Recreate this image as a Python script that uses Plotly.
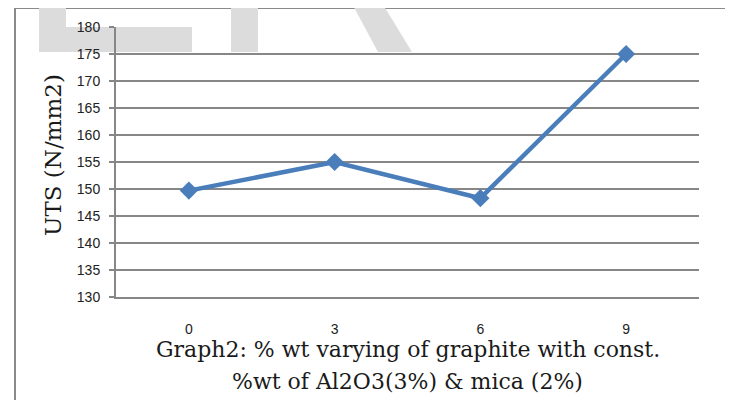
import plotly.graph_objects as go

# Data
categories = ["0", "3", "6", "9"]
uts_values = [149.7, 155.0, 148.3, 175.0]
y_ticks = [130, 135, 140, 145, 150, 155, 160, 165, 170, 175, 180]

# page body has an 8px margin; figure sized to fit the 733x400 window
OFF = 8
W, H = 733 - OFF, 400 - OFF
PL, PR, PT, PB = 116, 699, 27, 297          # plot area in window pixels
L, T = PL - OFF, PT - OFF
PW, PH = PR - PL, PB - PT
R = W - L - PW
B = H - T - PH


def px(x, y):
    """window pixel -> paper coords"""
    return (x - PL) / PW, (PB - y) / PH


def poly(points):
    pts = [px(x, y) for x, y in points]
    return "M " + " L ".join(f"{a:.5f},{b:.5f}" for a, b in pts) + " Z"


fig = go.Figure()
fig.add_trace(go.Scatter(
    x=categories, y=uts_values, mode="lines+markers",
    line=dict(color="#4a7ebb", width=4.5),
    marker=dict(symbol="diamond", size=14, color="#4a7ebb"),
    showlegend=False, cliponaxis=False,
))

grey = "#878787"
shapes = []
# outer chart border
x0, y0 = px(15, 8)
x1, y1 = px(728, 412)
shapes.append(dict(type="rect", xref="paper", yref="paper", x0=x0, y0=y1, x1=x1, y1=y0,
                   line=dict(color="#8a8a8a", width=2), fillcolor="rgba(0,0,0,0)", layer="below"))
# watermark shapes
wm = "#dcdcdc"
for pts in [
    [(39, -2), (66, -2), (66, 27), (192, 27), (192, 52), (39, 52)],
    [(231, -2), (258, -2), (258, 52), (231, 52)],
    [(349, -2), (379, -2), (412, 52), (378, 52)],
]:
    shapes.append(dict(type="path", xref="paper", yref="paper", path=poly(pts),
                       fillcolor=wm, line=dict(width=0), layer="below"))

serif = dict(family="DejaVu Serif", size=22, color="#1a1a1a")
annotations = []
ax, ay = px(407.5, 349)
annotations.append(dict(text="Graph2: % wt varying of graphite with const.", xref="paper", yref="paper",
                        x=ax, y=ay, showarrow=False, xanchor="center", yanchor="middle", font=serif))
ax, ay = px(407.5, 381)
annotations.append(dict(text="%wt of Al2O3(3%) &amp; mica (2%)", xref="paper", yref="paper",
                        x=ax, y=ay, showarrow=False, xanchor="center", yanchor="middle", font=serif))
ax, ay = px(53, 155)
annotations.append(dict(text="UTS (N/mm2)", xref="paper", yref="paper", textangle=-90,
                        x=ax, y=ay, showarrow=False, xanchor="center", yanchor="middle",
                        font=dict(family="DejaVu Serif", size=23, color="#1a1a1a")))

tickfont = dict(family="Liberation Sans", size=14, color="#222")
fig.update_layout(
    width=W, height=H,
    margin=dict(l=L, r=R, t=T, b=B, pad=0),
    paper_bgcolor="white", plot_bgcolor="rgba(0,0,0,0)",
    shapes=shapes, annotations=annotations,
    xaxis=dict(
        type="category", range=[-0.5, 3.5], showgrid=False, zeroline=False,
        showline=True, linecolor=grey, linewidth=2, ticks="",
        ticklabelstandoff=18, tickfont=tickfont,
    ),
    yaxis=dict(
        range=[130, 180], tickvals=y_ticks, showgrid=True, gridcolor=grey, gridwidth=1.5,
        zeroline=False, showline=True, linecolor=grey, linewidth=2,
        ticks="outside", ticklen=5, tickcolor=grey, tickwidth=1.5,
        ticklabelstandoff=6, tickfont=tickfont,
    ),
)

fig.write_html("out.html")
